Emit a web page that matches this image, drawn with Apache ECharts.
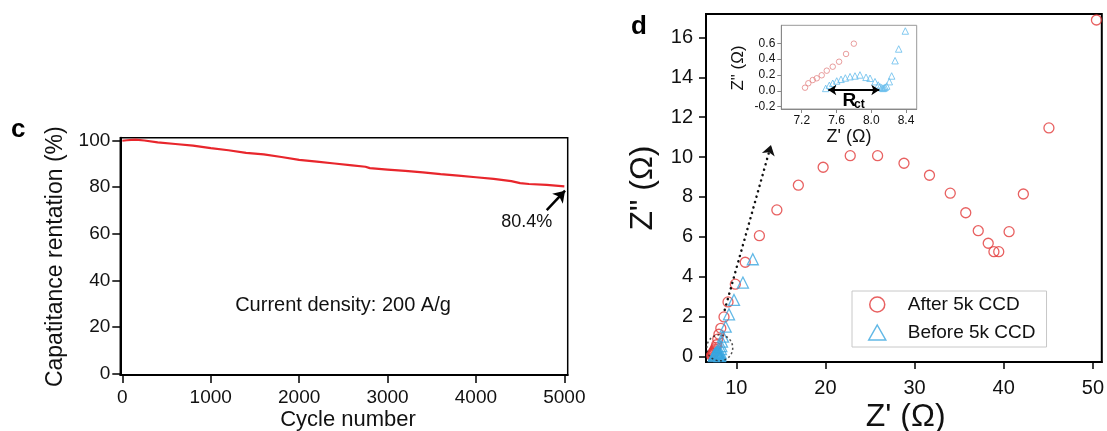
<!DOCTYPE html>
<html><head><meta charset="utf-8">
<script src="https://cdn.jsdelivr.net/npm/echarts@6/dist/echarts.min.js"></script>
<style>html,body{margin:0;padding:0;background:#fff}#c{width:1107px;height:431px}</style>
</head><body><div id="c"></div>
<script>
// ---- panel c data ----
const cycles    = [0, 50, 150, 250, 400, 600, 800, 1000, 1200, 1400, 1600, 1800, 2000, 2200, 2400, 2600, 2750, 2800, 3000, 3200, 3400, 3600, 3800, 4000, 4200, 4400, 4500, 4600, 4800, 5000];
const retention = [100, 100.2, 100.5, 100.1, 99.3, 98.6, 97.9, 96.8, 95.9, 94.8, 94.1, 93.0, 91.8, 91.0, 90.2, 89.4, 88.8, 88.2, 87.6, 87.0, 86.4, 85.6, 85.0, 84.3, 83.6, 82.6, 81.8, 81.4, 81.0, 80.4];
const cycleTicks = [0, 1000, 2000, 3000, 4000, 5000];
const retentionTicks = [0, 20, 40, 60, 80, 100];
const finalArrow = [[4801, 70.2], [5008, 78.5]];

// ---- panel d data ----
const afterCCD = [[7.238,0.039],[7.276,0.095],[7.327,0.136],[7.373,0.158],[7.43,0.196],[7.488,0.254],[7.557,0.304],[7.63,0.367],[7.71,0.465],[7.80,0.595],[7.92,0.88],[8.05,1.12],[8.26,1.42],[8.62,1.99],[9.07,2.74],[9.89,3.63],[11.0,4.73],[12.59,6.06],[14.55,7.35],[16.96,8.59],[19.74,9.49],[22.78,10.07],[25.85,10.07],[28.81,9.69],[31.67,9.09],[34.0,8.19],[35.74,7.21],[37.14,6.31],[38.26,5.68],[38.9,5.26],[39.44,5.26],[40.6,6.26],[42.2,8.15],[45.07,11.46],[50.4,16.87]];
const beforeCCD = [[7.476,0.03],[7.518,0.069],[7.557,0.095],[7.603,0.124],[7.652,0.145],[7.702,0.162],[7.756,0.178],[7.813,0.187],[7.87,0.2],[7.94,0.17],[7.986,0.158],[8.043,0.115],[8.08,0.073],[8.10,0.05],[8.12,0.04],[8.135,0.03],[8.147,0.035],[8.16,0.045],[8.178,0.06],[8.208,0.115],[8.235,0.187],[8.274,0.38],[8.316,0.528],[8.392,0.755],[8.51,1.0],[8.81,1.5],[9.18,2.12],[9.74,2.84],[10.74,3.71],[11.85,4.88]];
const zrTicks = [10, 20, 30, 40, 50];
const ziTicks = [0, 2, 4, 6, 8, 10, 12, 14, 16];
const insetZrTicks = [7.2, 7.6, 8.0, 8.4];
const insetZiTicks = [-0.2, 0, 0.2, 0.4, 0.6];
const zoomArrow = [[8.7, 2.34], [13.89, 10.6]];
const zoomRegion = [8.14, 0.44];
const rctArrow = [[7.506, 0.01], [8.093, 0.01]];

const FONT = 'Liberation Sans, Arial, Helvetica, sans-serif';
const RED = '#e23a3a', BLUE = '#3aa6e0';

function axis(gridIndex, min, max, ticks, o) {
  return {
    type: 'value', gridIndex, min, max,
    splitLine: {show: false},
    axisLine: {show: true, onZero: false, lineStyle: {color: o.lineColor || '#000', width: o.lineWidth || 2}},
    axisTick: {show: true, customValues: ticks, length: o.tickLen, inside: false, lineStyle: {color: o.lineColor || '#000', width: o.tickWidth || 1.5}},
    axisLabel: {customValues: ticks, formatter: o.fmt || (v => String(v)), fontSize: o.fontSize, color: '#111', margin: o.margin, fontFamily: FONT}
  };
}

const chart = echarts.init(document.getElementById('c'), null, {renderer: 'canvas'});
chart.setOption({
  animation: false,
  backgroundColor: '#fff',
  grid: [
    {left: 120.3, top: 137.7, width: 447.4, height: 237.3, show: true, borderColor: '#000', borderWidth: 1.5, backgroundColor: 'transparent'},
    {left: 706, top: 14, width: 399, height: 348, show: true, borderColor: '#000', borderWidth: 2, backgroundColor: 'transparent'},
    {left: 781.3, top: 25.3, width: 135.4, height: 83.7, show: true, borderColor: '#999', borderWidth: 1, backgroundColor: '#fff'}
  ],
  xAxis: [
    axis(0, -23, 5038, cycleTicks, {tickLen: 8, fontSize: 19, margin: 13}),
    axis(1, 6.6, 51, zrTicks, {tickLen: 7, fontSize: 20, margin: 16}),
    axis(2, 6.965, 8.523, insetZrTicks, {tickLen: 4, fontSize: 12, margin: 6, lineColor: '#888', lineWidth: 1, tickWidth: 1, fmt: v => v.toFixed(1)})
  ],
  yAxis: [
    axis(0, -0.73, 101.3, retentionTicks, {tickLen: 8, fontSize: 19, margin: 10}),
    axis(1, -0.27, 17.17, ziTicks, {tickLen: 7, fontSize: 20, margin: 13}),
    axis(2, -0.23, 0.827, insetZiTicks, {tickLen: 4, fontSize: 12, margin: 6, lineColor: '#888', lineWidth: 1, tickWidth: 1, fmt: v => v.toFixed(1)})
  ],
  legend: {
    data: ['After 5k CCD', 'Before 5k CCD'],
    orient: 'vertical', left: 852, top: 291,
    padding: [4, 11, 5, 16], itemWidth: 17, itemHeight: 15, itemGap: 9,
    borderColor: '#c8c8c8', borderWidth: 1, backgroundColor: '#fff',
    textStyle: {fontSize: 19, color: '#111', fontFamily: FONT, padding: [0, 0, 0, 17], lineHeight: 17},
    itemStyle: {borderWidth: 1.5},
    selectedMode: false
  },
  series: [
    {
      type: 'line', name: 'retention', xAxisIndex: 0, yAxisIndex: 0,
      data: cycles.map((c, i) => [c, retention[i]]),
      showSymbol: false, lineStyle: {color: '#e8262c', width: 2.2}, itemStyle: {color: '#e8262c'},
      markLine: {
        silent: true, symbol: ['none', 'arrow'], symbolSize: 11,
        label: {show: false},
        lineStyle: {color: '#000', width: 2.5, type: 'solid'},
        data: [[{coord: finalArrow[0]}, {coord: finalArrow[1]}]]
      }
    },
    {
      type: 'scatter', name: 'After 5k CCD', xAxisIndex: 1, yAxisIndex: 1,
      data: afterCCD, symbol: 'circle', symbolSize: 10,
      itemStyle: {color: 'rgba(0,0,0,0)', borderColor: RED, borderWidth: 1.3},
      markLine: {
        silent: true, symbol: ['none', 'arrow'], symbolSize: 10,
        label: {show: false},
        lineStyle: {color: '#111', width: 2.5, type: [0.1, 5.5], cap: 'round'},
        data: [[{coord: zoomArrow[0]}, {coord: zoomArrow[1]}]]
      }
    },
    {
      type: 'scatter', name: 'Before 5k CCD', xAxisIndex: 1, yAxisIndex: 1,
      data: beforeCCD, symbol: 'triangle', symbolSize: 11,
      itemStyle: {color: 'rgba(0,0,0,0)', borderColor: BLUE, borderWidth: 1.3}
    },
    {
      type: 'scatter', name: 'zoom region', xAxisIndex: 1, yAxisIndex: 1, silent: true, z: 5,
      data: [zoomRegion], symbol: 'circle', symbolSize: 26,
      itemStyle: {color: 'rgba(0,0,0,0)', borderColor: '#222', borderWidth: 1.5, borderType: [2, 2.5]}
    },
    {
      type: 'scatter', name: 'After (inset)', xAxisIndex: 2, yAxisIndex: 2,
      data: afterCCD, symbol: 'circle', symbolSize: 5.5,
      itemStyle: {color: 'rgba(0,0,0,0)', borderColor: '#e48686', borderWidth: 1}
    },
    {
      type: 'scatter', name: 'Before (inset)', xAxisIndex: 2, yAxisIndex: 2,
      data: beforeCCD, symbol: 'triangle', symbolSize: 6.5,
      itemStyle: {color: 'rgba(0,0,0,0)', borderColor: '#66bdec', borderWidth: 1},
      markLine: {
        silent: true, symbol: ['arrow', 'arrow'], symbolSize: 8,
        label: {show: false},
        lineStyle: {color: '#000', width: 2, type: 'solid'},
        data: [[{coord: rctArrow[0]}, {coord: rctArrow[1]}]]
      }
    }
  ],
  graphic: [
    {type: 'text', left: 11, top: 117, style: {text: 'c', font: 'bold 26px ' + FONT, fill: '#000'}},
    {type: 'text', left: 631, top: 14, style: {text: 'd', font: 'bold 26px ' + FONT, fill: '#000'}},
    {type: 'text', x: 55.5, y: 256.7, rotation: Math.PI / 2, style: {text: 'Capatitance rentation (%)', font: '23px ' + FONT, fill: '#111', align: 'center', verticalAlign: 'middle'}},
    {type: 'text', x: 348, y: 420, style: {text: 'Cycle number', font: '22px ' + FONT, fill: '#111', align: 'center', verticalAlign: 'middle'}},
    {type: 'text', x: 343, y: 305, style: {text: 'Current density: 200 A/g', font: '20px ' + FONT, fill: '#111', align: 'center', verticalAlign: 'middle'}},
    {type: 'text', x: 526.7, y: 221.7, style: {text: '80.4%', font: '18px ' + FONT, fill: '#111', align: 'center', verticalAlign: 'middle'}},
    {type: 'text', x: 643, y: 188, rotation: Math.PI / 2, style: {text: 'Z" (\u03A9)', font: '32px ' + FONT, fill: '#111', align: 'center', verticalAlign: 'middle'}},
    {type: 'text', x: 905.7, y: 417, style: {text: "Z' (\u03A9)", font: '32px ' + FONT, fill: '#111', align: 'center', verticalAlign: 'middle'}},
    {type: 'text', x: 738, y: 68, rotation: Math.PI / 2, style: {text: 'Z" (\u03A9)', font: '17px ' + FONT, fill: '#111', align: 'center', verticalAlign: 'middle'}},
    {type: 'text', x: 849, y: 137, style: {text: "Z' (\u03A9)", font: '18px ' + FONT, fill: '#111', align: 'center', verticalAlign: 'middle'}},
    {type: 'text', x: 842.5, y: 100.5, z: 10, style: {text: 'R', font: 'bold 19px ' + FONT, fill: '#000', align: 'left', verticalAlign: 'middle'}},
    {type: 'text', x: 854, y: 105, z: 10, style: {text: 'ct', font: 'bold 12px ' + FONT, fill: '#000', align: 'left', verticalAlign: 'middle'}}
  ]
});
</script>
</body></html>
